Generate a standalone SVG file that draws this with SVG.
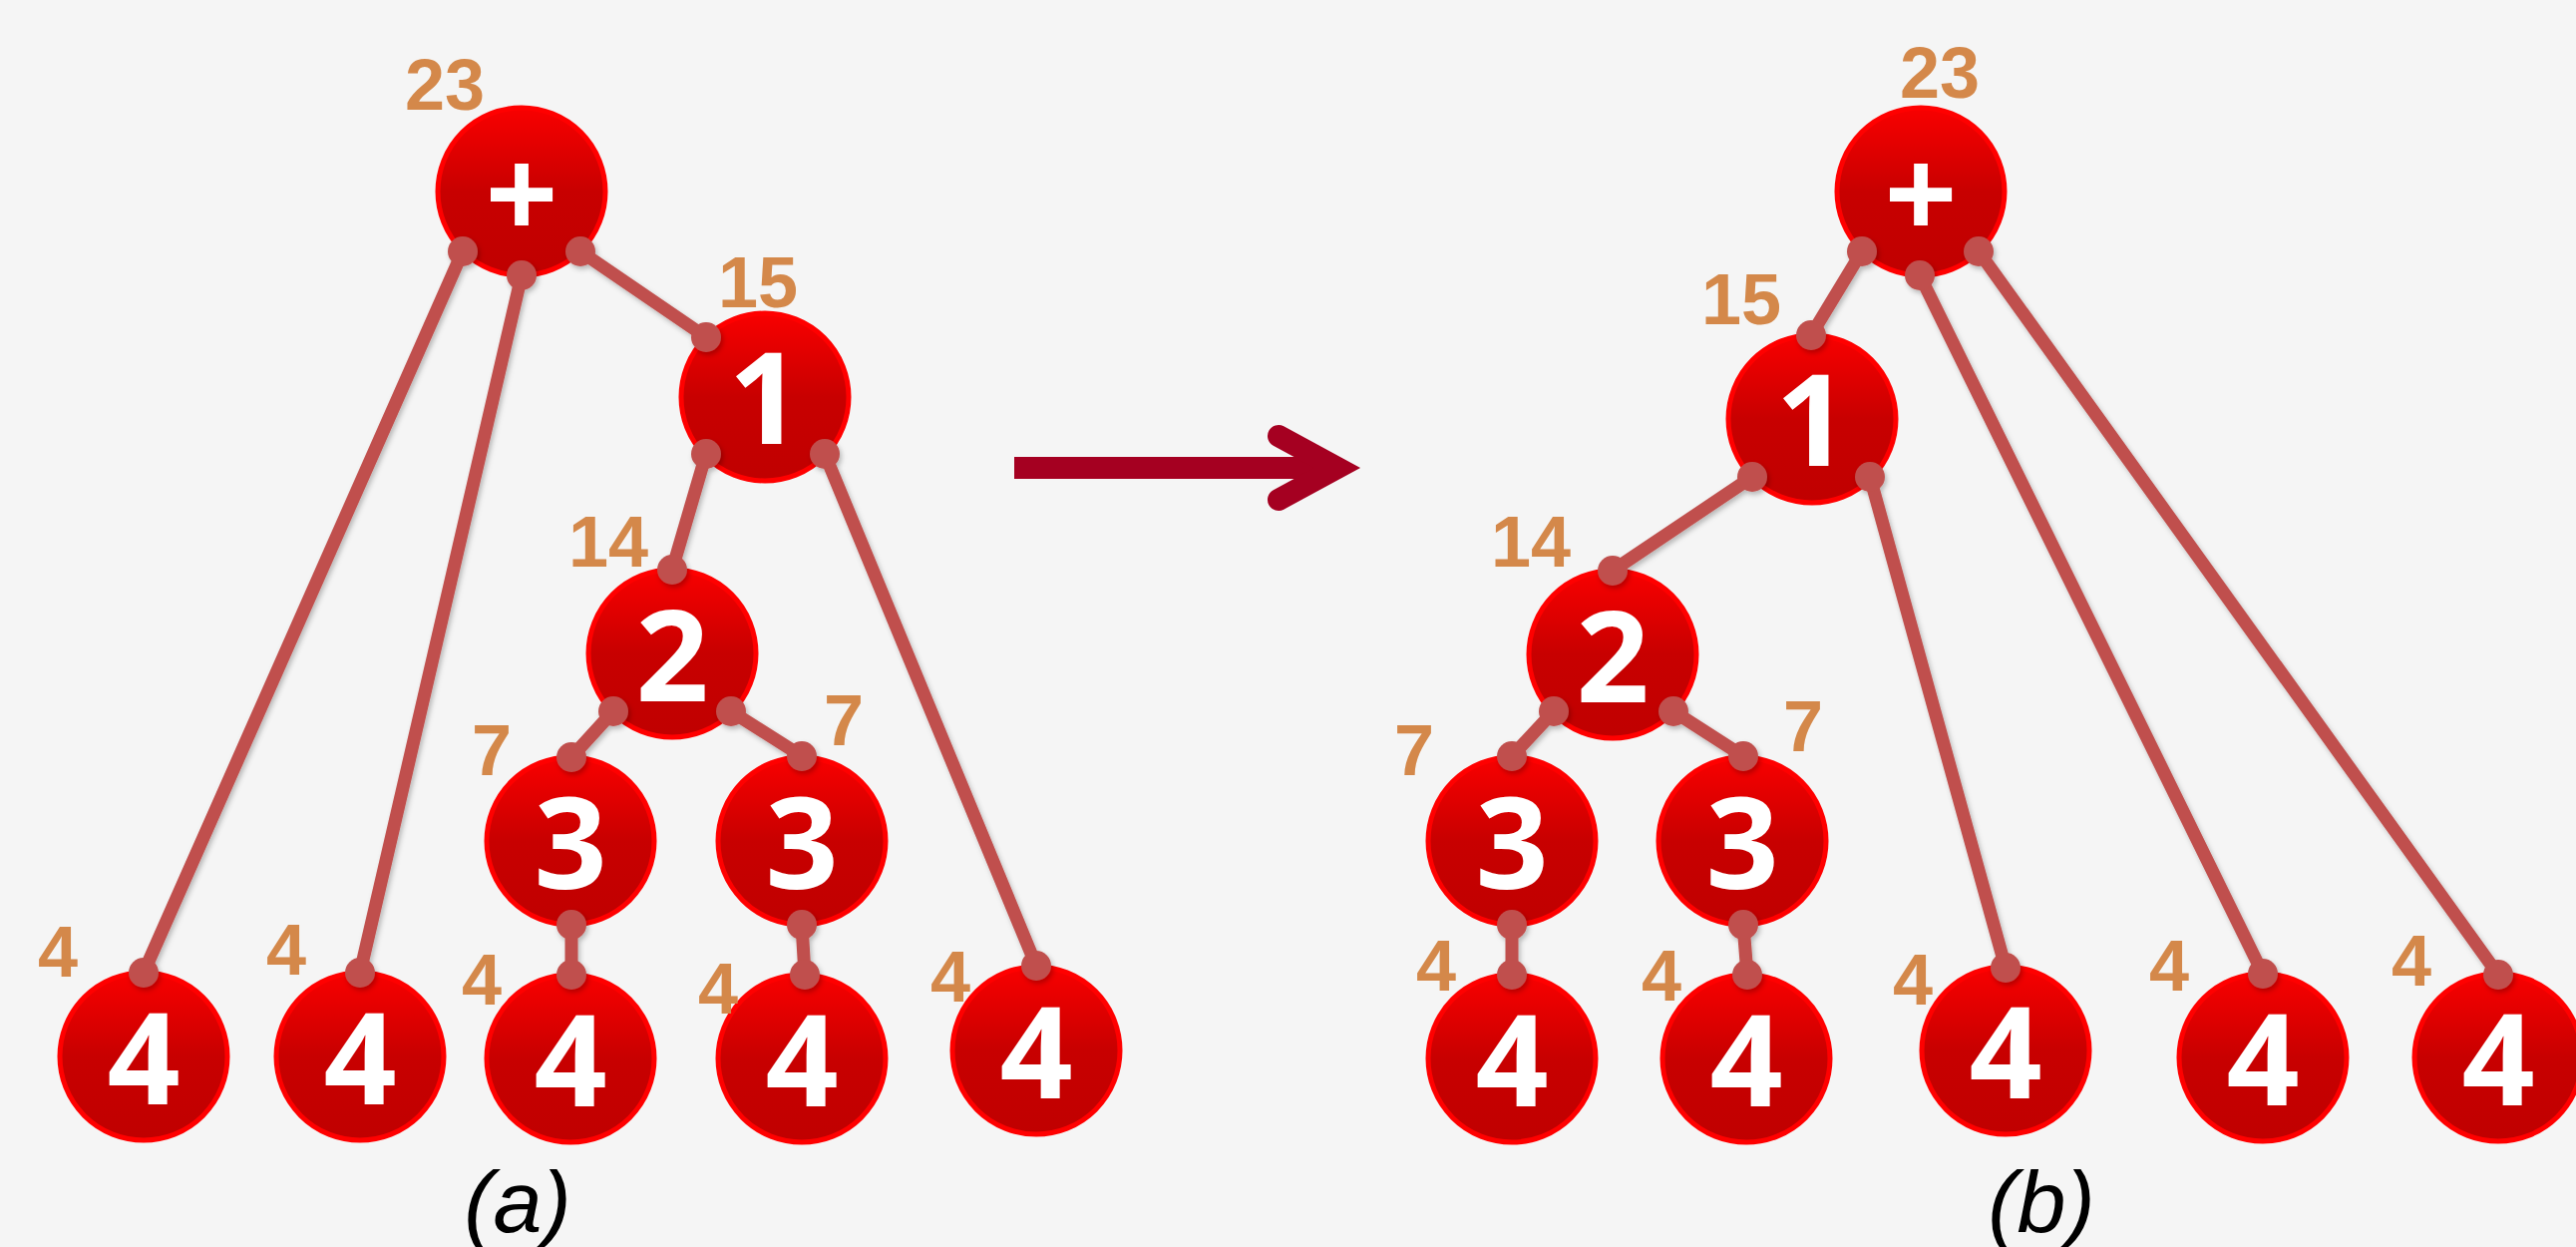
<svg xmlns="http://www.w3.org/2000/svg" width="2583" height="1250" viewBox="0 0 2583 1250">
  <defs>
    <linearGradient id="nodeFill" x1="0" y1="0" x2="0" y2="1">
      <stop offset="0" stop-color="#F80000"/>
      <stop offset="0.5" stop-color="#C80000"/>
      <stop offset="1" stop-color="#C00000"/>
    </linearGradient>
    <filter id="soft" x="-20%" y="-20%" width="140%" height="140%">
      <feDropShadow dx="2" dy="3" stdDeviation="2.5" flood-color="#000" flood-opacity="0.25"/>
    </filter>
    <style>
      .node circle { fill: url(#nodeFill); stroke: #FF0000; stroke-width: 5; }
      .node text { fill: #FFFFFF; font-family: "Open Sans", "DejaVu Sans", sans-serif; font-weight: 700; font-size: 128px; text-anchor: middle; }
      .w { fill: #D4884A; font-family: "Liberation Sans", Arial, sans-serif; font-weight: 700; font-size: 72px; text-anchor: middle; }
      .cap { fill: #000000; font-family: "Liberation Sans", Arial, sans-serif; font-style: italic; font-size: 88px; text-anchor: middle; }
      .edge line { stroke: #C0504D; stroke-width: 13; stroke-linecap: round; }
      .edge circle { fill: #C0504D; }
    </style>
  </defs>

  <rect x="0" y="0" width="2583" height="1250" fill="#F5F5F5"/>

  <!-- tree (a) nodes -->
  <g id="a-plus" class="node"><circle cx="523" cy="192" r="84"/><text x="523" y="240">+</text></g>
  <g id="a-n1" class="node"><circle cx="767" cy="398" r="84"/><text x="767" y="445">1</text></g>
  <g id="a-n2" class="node"><circle cx="674" cy="655" r="84"/><text x="674" y="703">2</text></g>
  <g id="a-n3l" class="node"><circle cx="572" cy="843" r="84"/><text x="572" y="891">3</text></g>
  <g id="a-n3r" class="node"><circle cx="804" cy="843" r="84"/><text x="804" y="891">3</text></g>
  <g id="a-n4a" class="node"><circle cx="144" cy="1059" r="84"/><text x="144" y="1107">4</text></g>
  <g id="a-n4b" class="node"><circle cx="361" cy="1059" r="84"/><text x="361" y="1107">4</text></g>
  <g id="a-n4c" class="node"><circle cx="572" cy="1061" r="84"/><text x="572" y="1109">4</text></g>
  <g id="a-n4d" class="node"><circle cx="804" cy="1061" r="84"/><text x="804" y="1109">4</text></g>
  <g id="a-n4e" class="node"><circle cx="1039" cy="1053" r="84"/><text x="1039" y="1101">4</text></g>

  <!-- tree (b) nodes -->
  <g id="b-plus" class="node"><circle cx="1926" cy="192" r="84"/><text x="1926" y="240">+</text></g>
  <g id="b-n1" class="node"><circle cx="1817" cy="420" r="84"/><text x="1817" y="467">1</text></g>
  <g id="b-n2" class="node"><circle cx="1617" cy="656" r="84"/><text x="1617" y="704">2</text></g>
  <g id="b-n3l" class="node"><circle cx="1516" cy="843" r="84"/><text x="1516" y="891">3</text></g>
  <g id="b-n3r" class="node"><circle cx="1747" cy="843" r="84"/><text x="1747" y="891">3</text></g>
  <g id="b-n4a" class="node"><circle cx="1516" cy="1061" r="84"/><text x="1516" y="1109">4</text></g>
  <g id="b-n4b" class="node"><circle cx="1751" cy="1061" r="84"/><text x="1751" y="1109">4</text></g>
  <g id="b-n4c" class="node"><circle cx="2011" cy="1053" r="84"/><text x="2011" y="1101">4</text></g>
  <g id="b-n4d" class="node"><circle cx="2269" cy="1060" r="84"/><text x="2269" y="1108">4</text></g>
  <g id="b-n4e" class="node"><circle cx="2505" cy="1060" r="84"/><text x="2505" y="1108">4</text></g>

  <!-- connectors: line plus a dot at each end -->
  <g id="connectors" class="edge" filter="url(#soft)">
    <line x1="464" y1="252" x2="144" y2="975"/>
    <line x1="523" y1="276" x2="361" y2="975"/>
    <line x1="582" y1="252" x2="708" y2="338"/>
    <line x1="708" y1="455" x2="674" y2="571"/>
    <line x1="827" y1="455" x2="1039" y2="968"/>
    <line x1="615" y1="713" x2="573" y2="759"/>
    <line x1="733" y1="713" x2="804" y2="758"/>
    <line x1="573" y1="927" x2="573" y2="977"/>
    <line x1="804" y1="927" x2="807" y2="977"/>

    <line x1="1867" y1="252" x2="1816" y2="336"/>
    <line x1="1925" y1="276" x2="2269" y2="976"/>
    <line x1="1984" y1="252" x2="2505" y2="977"/>
    <line x1="1757" y1="478" x2="1617" y2="572"/>
    <line x1="1875" y1="478" x2="2011" y2="970"/>
    <line x1="1558" y1="713" x2="1516" y2="758"/>
    <line x1="1678" y1="713" x2="1748" y2="758"/>
    <line x1="1516" y1="927" x2="1516" y2="977"/>
    <line x1="1748" y1="927" x2="1752" y2="977"/>

    <circle cx="464" cy="252" r="15"/><circle cx="144" cy="975" r="15"/>
    <circle cx="523" cy="276" r="15"/><circle cx="361" cy="975" r="15"/>
    <circle cx="582" cy="252" r="15"/><circle cx="708" cy="338" r="15"/>
    <circle cx="708" cy="455" r="15"/><circle cx="674" cy="571" r="15"/>
    <circle cx="827" cy="455" r="15"/><circle cx="1039" cy="968" r="15"/>
    <circle cx="615" cy="713" r="15"/><circle cx="573" cy="759" r="15"/>
    <circle cx="733" cy="713" r="15"/><circle cx="804" cy="758" r="15"/>
    <circle cx="573" cy="927" r="15"/><circle cx="573" cy="977" r="15"/>
    <circle cx="804" cy="927" r="15"/><circle cx="807" cy="977" r="15"/>

    <circle cx="1867" cy="252" r="15"/><circle cx="1816" cy="336" r="15"/>
    <circle cx="1925" cy="276" r="15"/><circle cx="2269" cy="976" r="15"/>
    <circle cx="1984" cy="252" r="15"/><circle cx="2505" cy="977" r="15"/>
    <circle cx="1757" cy="478" r="15"/><circle cx="1617" cy="572" r="15"/>
    <circle cx="1875" cy="478" r="15"/><circle cx="2011" cy="970" r="15"/>
    <circle cx="1558" cy="713" r="15"/><circle cx="1516" cy="758" r="15"/>
    <circle cx="1678" cy="713" r="15"/><circle cx="1748" cy="758" r="15"/>
    <circle cx="1516" cy="927" r="15"/><circle cx="1516" cy="977" r="15"/>
    <circle cx="1748" cy="927" r="15"/><circle cx="1752" cy="977" r="15"/>
  </g>

  <!-- subtree weights, tree (a) -->
  <g id="a-weights">
    <text class="w" x="446" y="110">23</text>
    <text class="w" x="760" y="308">15</text>
    <text class="w" x="610" y="568">14</text>
    <text class="w" x="493" y="777">7</text>
    <text class="w" x="846" y="747">7</text>
    <text class="w" x="58" y="979">4</text>
    <text class="w" x="287" y="977">4</text>
    <text class="w" x="483" y="1007">4</text>
    <text class="w" x="720" y="1016">4</text>
    <text class="w" x="953" y="1004">4</text>
  </g>

  <!-- subtree weights, tree (b) -->
  <g id="b-weights">
    <text class="w" x="1945" y="98">23</text>
    <text class="w" x="1746" y="325">15</text>
    <text class="w" x="1535" y="568">14</text>
    <text class="w" x="1418" y="777">7</text>
    <text class="w" x="1808" y="753">7</text>
    <text class="w" x="1440" y="993">4</text>
    <text class="w" x="1666" y="1003">4</text>
    <text class="w" x="1918" y="1007">4</text>
    <text class="w" x="2175" y="993">4</text>
    <text class="w" x="2418" y="988">4</text>
  </g>

  <!-- transformation arrow -->
  <g id="arrow" stroke="#A50021" stroke-width="22" fill="none">
    <line x1="1017" y1="469" x2="1335" y2="469"/>
    <polyline points="1282,437 1341,469 1282,501" stroke-linecap="round" stroke-linejoin="miter"/>
  </g>

  <!-- captions -->
  <text class="cap" x="519" y="1235">(a)</text>
  <text class="cap" x="2047" y="1235">(b)</text>
</svg>
